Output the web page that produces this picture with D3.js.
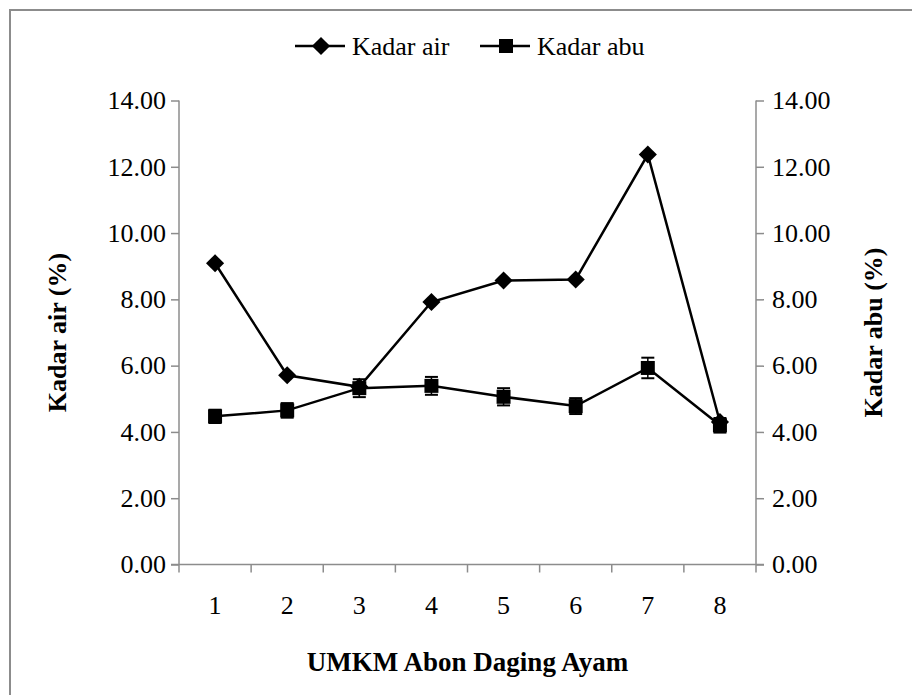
<!DOCTYPE html>
<html>
<head>
<meta charset="utf-8">
<script src="https://cdn.jsdelivr.net/npm/d3@7/dist/d3.min.js"></script>
<style>
  html, body { margin: 0; padding: 0; background: #fff; }
  svg text { font-family: "Liberation Serif", "Times New Roman", serif; fill: #000; }
</style>
</head>
<body>
<svg id="chart" width="912" height="695"></svg>
<script>
const categories = ["1", "2", "3", "4", "5", "6", "7", "8"];
const kadarAir = [9.09, 5.71, 5.36, 7.92, 8.57, 8.60, 12.37, 4.30];
const kadarAbu = [4.47, 4.65, 5.32, 5.39, 5.06, 4.78, 5.93, 4.20];
const kadarAbuErr = [0.20, 0.22, 0.27, 0.27, 0.26, 0.24, 0.31, 0.22];
const yTicks = [0, 2, 4, 6, 8, 10, 12, 14];
const seriesNames = ["Kadar air", "Kadar abu"];

(function () {
const svg = d3.select("#chart");
const pLeft = 179, pRight = 756, pTop = 100.5, pBottom = 564.5;
const axisColor = "#8c8c8c";
const fs = 26;

// outer border (extends past the bottom/right of the picture)
svg.append("rect").attr("x", 10).attr("y", 10).attr("width", 1000).attr("height", 1000)
  .attr("fill", "none").attr("stroke", axisColor).attr("stroke-width", 2);

const x = d3.scaleBand().domain(categories).range([pLeft, pRight]).padding(0);
const y = d3.scaleLinear().domain([0, 14]).range([pBottom, pTop]);
const cx = d => x(d) + x.bandwidth() / 2;

// x axis
const xAxis = svg.append("g").attr("transform", `translate(0,${pBottom})`)
  .call(d3.axisBottom(x).tickSize(0).tickPadding(40));
xAxis.select(".domain").attr("stroke", axisColor).attr("stroke-width", 1.5)
  .attr("d", `M${pLeft - 8},0H${pRight + 8}`);
xAxis.selectAll("text").attr("font-size", fs).attr("dy", "0.35em");
const bounds = categories.map(c => x(c)).concat([pRight]);
svg.append("g").selectAll("line").data(bounds).join("line")
  .attr("x1", d => d).attr("x2", d => d).attr("y1", pBottom).attr("y2", pBottom + 8)
  .attr("stroke", axisColor).attr("stroke-width", 1.5);

// left y axis
const yl = svg.append("g").attr("transform", `translate(${pLeft},0)`)
  .call(d3.axisLeft(y).tickValues(yTicks).tickFormat(d3.format(".2f")).tickSize(8).tickPadding(5));
yl.select(".domain").attr("stroke", axisColor).attr("stroke-width", 1.5).attr("d", `M0,${pTop}V${pBottom}`);
yl.selectAll(".tick line").attr("stroke", axisColor).attr("stroke-width", 1.5);
yl.selectAll("text").attr("font-size", fs);

// right y axis
const yr = svg.append("g").attr("transform", `translate(${pRight},0)`)
  .call(d3.axisRight(y).tickValues(yTicks).tickFormat(d3.format(".2f")).tickSize(8).tickPadding(8));
yr.select(".domain").attr("stroke", axisColor).attr("stroke-width", 1.5).attr("d", `M0,${pTop}V${pBottom}`);
yr.selectAll(".tick line").attr("stroke", axisColor).attr("stroke-width", 1.5);
yr.selectAll("text").attr("font-size", fs);

// lines
const line = d3.line().x((d, i) => cx(categories[i])).y(d => y(d));
svg.append("path").datum(kadarAir).attr("d", line).attr("fill", "none").attr("stroke", "#000").attr("stroke-width", 2.5);
svg.append("path").datum(kadarAbu).attr("d", line).attr("fill", "none").attr("stroke", "#000").attr("stroke-width", 2.5);

// error bars
const eb = svg.append("g");
kadarAbu.forEach((v, i) => {
  const px = cx(categories[i]);
  const e = kadarAbuErr[i];
  eb.append("line").attr("x1", px).attr("x2", px).attr("y1", y(v + e)).attr("y2", y(v - e)).attr("stroke", "#000").attr("stroke-width", 1.5);
  [v + e, v - e].forEach(t => eb.append("line").attr("x1", px - 6.5).attr("x2", px + 6.5).attr("y1", y(t)).attr("y2", y(t)).attr("stroke", "#000").attr("stroke-width", 2));
});

// markers
const diamond = d3.symbol().type(d3.symbolDiamond2).size(210);
const square = d3.symbol().type(d3.symbolSquare).size(196);
svg.append("g").selectAll("path").data(kadarAir).join("path")
  .attr("d", diamond).attr("transform", (d, i) => `translate(${cx(categories[i])},${y(d)})`).attr("fill", "#000");
svg.append("g").selectAll("path").data(kadarAbu).join("path")
  .attr("d", square).attr("transform", (d, i) => `translate(${cx(categories[i])},${y(d)})`).attr("fill", "#000");

// axis titles
svg.append("text").attr("transform", `translate(60,${(pTop + pBottom) / 2}) rotate(-90)`)
  .attr("text-anchor", "middle").attr("dominant-baseline", "middle")
  .attr("font-size", fs).attr("font-weight", "bold").text("Kadar air (%)");
svg.append("text").attr("transform", `translate(876,${(pTop + pBottom) / 2}) rotate(-90)`)
  .attr("text-anchor", "middle").attr("dominant-baseline", "middle")
  .attr("font-size", fs).attr("font-weight", "bold").text("Kadar abu (%)");
svg.append("text").attr("x", (pLeft + pRight) / 2).attr("y", 671)
  .attr("text-anchor", "middle").attr("font-size", 27).attr("font-weight", "bold").text("UMKM Abon Daging Ayam");

// legend
const lg = svg.append("g");
const legendItems = [{ x: 295, sym: diamond }, { x: 480, sym: square }];
legendItems.forEach((it, i) => {
  lg.append("line").attr("x1", it.x).attr("x2", it.x + 50).attr("y1", 46).attr("y2", 46).attr("stroke", "#000").attr("stroke-width", 2.5);
  lg.append("path").attr("d", it.sym).attr("transform", `translate(${it.x + 26},46)`).attr("fill", "#000");
  lg.append("text").attr("x", it.x + 57).attr("y", 46).attr("dy", "0.35em").attr("font-size", fs).text(seriesNames[i]);
});
})();
</script>
</body>
</html>
